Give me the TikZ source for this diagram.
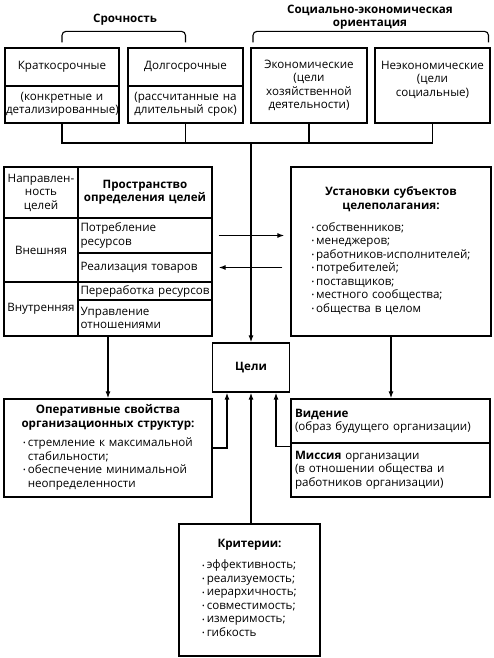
\documentclass[tikz,border=0pt]{standalone}
\usepackage{fontspec}
\setmainfont{Open Sans}
\usetikzlibrary{positioning,arrows.meta,fit}
\newcommand{\bul}{\raisebox{0.12ex}{\scriptsize\textbullet}\,}

\begin{document}
\begin{tikzpicture}[
	x=1pt, y=-1pt,
	every node/.style={font=\fontsize{11.6}{13.5}\selectfont, color=black},
	box/.style={draw, line width=1.3pt, inner sep=1pt, align=center},
	tcell/.style={draw, line width=1.3pt, inner xsep=2.5pt, inner ysep=1pt, align=left, text width=129pt, minimum width=134pt},
	lcell/.style={draw, line width=1.3pt, inner sep=1pt, align=center, text width=72pt, minimum width=74pt},
	conn/.style={line width=1.2pt},
	arrow line/.style={line width=1.2pt, -{Latex[length=7pt,width=5pt]}},
	brace line/.style={line width=1.1pt, rounded corners=4pt}
	]
	\useasboundingbox (0,0) rectangle (494,658);
	% headings
	\node[font=\fontsize{11.6}{13.5}\selectfont\bfseries] (srok) at (125,20) {Срочность};
	\node[font=\fontsize{11.6}{13.5}\selectfont\bfseries, align=center] (soc) at (370,17)
	{Социально-экономическая\\ориентация};
	% top boxes
	\node[box, minimum width=114pt, minimum height=38pt] (kr1) at (62,67) {Краткосрочные};
	\node[box, minimum width=114pt, minimum height=37pt, text width=112pt] (kr2) at (62,104.5)
	{(конкретные и\\детализированные)};
	\node[box, minimum width=115pt, minimum height=38pt] (dl1) at (185.5,67) {Долгосрочные};
	\node[box, minimum width=115pt, minimum height=37pt, text width=113pt] (dl2) at (185.5,104.5)
	{(рассчитанные на\\длительный срок)};
	\node[box, minimum width=116pt, minimum height=75pt, text width=114pt] (ek) at (309,85.5)
	{Экономические\\(цели\\хозяйственной\\деятельности)};
	\node[box, minimum width=115pt, minimum height=75pt, text width=113pt] (nek) at (432.5,85.5)
	{Неэкономические\\(цели\\социальные)\\~};
	\draw[brace line] ([yshift=5pt]kr1.north) -- ++(0,-11) -| ([yshift=5pt]dl1.north);
	\draw[brace line] ([xshift=-56pt,yshift=5pt]ek.north) -- ++(0,-11) -| ([xshift=56pt,yshift=5pt]nek.north);
	% table
	\node[lcell, minimum height=51pt] (napr) at (41,192.5) {Направлен-\\ность\\целей};
	\node[tcell, minimum height=51pt, align=center, font=\fontsize{11.6}{13.5}\selectfont\bfseries] (prostr) at (145,192.5)
	{Пространство\\определения целей};
	\node[lcell, minimum height=64pt] (vnesh) at (41,250) {Внешняя};
	\node[lcell, minimum height=54pt] (vnutr) at (41,309) {Внутренняя};
	\node[tcell, minimum height=35pt] (potr) at (145,235.5) {Потребление\\ресурсов};
	\node[tcell, minimum height=29pt] (real) at (145,267.5) {Реализация товаров};
	\node[tcell, minimum height=18pt] (perer) at (145,291) {Переработка ресурсов};
	\node[tcell, minimum height=36pt] (upr) at (145,318) {Управление\\отношениями};
	\node[fit=(napr)(upr), draw, line width=1.3pt, inner sep=0pt] (tbl) {};
	% subjects
	\node[box, minimum width=200pt, minimum height=169pt, text width=196pt] (ust) at (391,251.5)
	{\textbf{Установки субъектов}\\\textbf{целеполагания:}\\[9pt]
		\begin{tabular}{@{}l@{}}
			\bul собственников;\\
			\bul менеджеров;\\
			\bul работников-исполнителей;\\
			\bul потребителей;\\
			\bul поставщиков;\\
			\bul местного сообщества;\\
			\bul общества в целом
	\end{tabular}};
	% goals
	\node[box, minimum width=77pt, minimum height=49pt, font=\fontsize{11.6}{13.5}\selectfont\bfseries] (celi) at (251,367.5) {Цели};
	\node[box, minimum width=208pt, minimum height=98pt, text width=204pt] (oper) at (108,448)
	{\textbf{Оперативные свойства}\\\textbf{организационных структур:}\\[6pt]
		\begin{tabular}{@{}l@{}}
			\bul стремление к максимальной\\
			\phantom{\bul}стабильности;\\
			\bul обеспечение минимальной\\
			\phantom{\bul}неопределенности
	\end{tabular}};
	\node[box, minimum width=199pt, minimum height=44pt, text width=191pt, align=left] (vid) at (390.5,421)
	{\textbf{Видение}\\(образ будущего организации)};
	\node[box, minimum width=199pt, minimum height=54pt, text width=191pt, align=left] (mis) at (390.5,470)
	{\textbf{Миссия} организации\\(в отношении общества и\\работников организации)};
	\node[box, minimum width=141pt, minimum height=132pt, text width=137pt] (krit) at (249.5,590)
	{\textbf{Критерии:}\\[8pt]
		\begin{tabular}{@{}l@{}}
			\bul эффективность;\\
			\bul реализуемость;\\
			\bul иерархичность;\\
			\bul совместимость;\\
			\bul измеримость;\\
			\bul гибкость
	\end{tabular}};
	% Lines
	\coordinate (bus) at (251,143);
	\draw[conn] (kr2.south) -- (kr2.south |- bus) -- (nek.south |- bus) -- (nek.south);
	\draw[conn] (dl2.south) -- (dl2.south |- bus);
	\draw[conn] (ek.south) -- (ek.south |- bus);
	\draw[arrow line] (bus) -- (celi.north);
	\draw[arrow line, shorten <=6pt, shorten >=6pt] (potr.east) -- (potr.east -| ust.west);
	\draw[arrow line, shorten <=8pt, shorten >=6pt] (real.east -| ust.west) -- (real.east);
	\draw[arrow line] (tbl.south) -- (oper.north);
	\draw[arrow line] (ust.south) -- (ust.south |- vid.north);
	\draw[arrow line] (oper.east) -| ([xshift=-24pt]celi.south);
	\draw[arrow line] ([yshift=-4pt]mis.north west) -| ([xshift=25pt]celi.south);
	\draw[arrow line] (celi.south |- krit.north) -- (celi.south);
\end{tikzpicture}
\end{document}
